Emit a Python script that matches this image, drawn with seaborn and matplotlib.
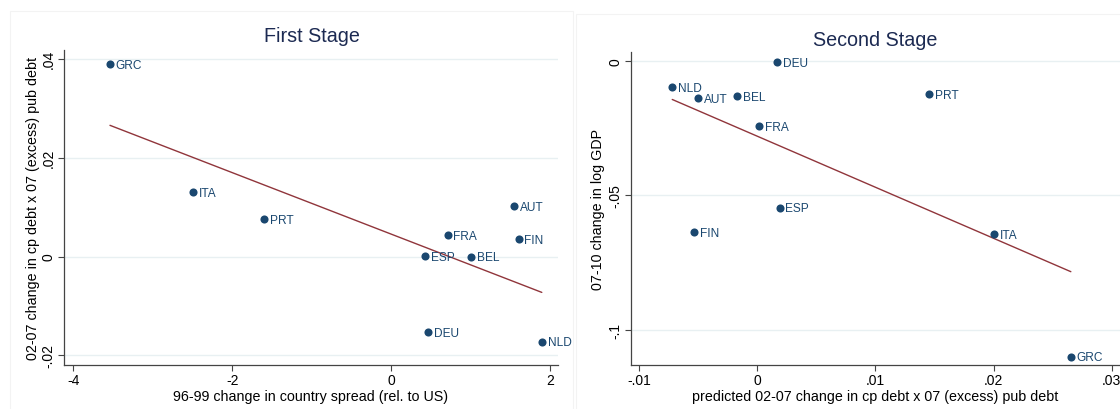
import numpy as np
import pandas as pd
import matplotlib
matplotlib.use("Agg")
import matplotlib.pyplot as plt
import seaborn as sns
from matplotlib.patches import Rectangle
from matplotlib.ticker import FuncFormatter

# Dados
countries = ["AUT", "BEL", "DEU", "ESP", "FIN", "FRA", "GRC", "ITA", "NLD", "PRT"]

# Primeiro estagio
spread_change = [1.553, 1.013, 0.464, 0.428, 1.607, 0.712, -3.539, -2.495, 1.899, -1.601]
debt_change = [0.0102, 0.0, -0.0153, 0.0001, 0.0035, 0.0043, 0.0389, 0.0130, -0.0172, 0.0076]

# Segundo estagio
pred_debt = [-0.00501, -0.0017, 0.0017, 0.0019, -0.00535, 0.00015, 0.02654, 0.02006, -0.00719, 0.01453]
gdp_change = [-0.0138, -0.0130, -0.0003, -0.0545, -0.0636, -0.0241, -0.1100, -0.0645, -0.0097, -0.0123]

df1 = pd.DataFrame({"x": spread_change, "y": debt_change, "lab": countries})
df2 = pd.DataFrame({"x": pred_debt, "y": gdp_change, "lab": countries})

navy = "#1a476f"
maroon = "#90353b"
grid_c = "#e8f0f2"
title_c = "#1c2a52"

sns.set_style("white")
plt.rcParams["font.family"] = ["Liberation Sans", "DejaVu Sans"]


def stata_fmt(v, pos):
    # formato do Stata: .02, -.05, 0
    s = "%g" % round(v, 6)
    if s.startswith("0."):
        s = s[1:]
    elif s.startswith("-0."):
        s = "-" + s[2:]
    return s


W, H = 1120, 410
fig = plt.figure(figsize=(11.2, 4.1), dpi=100)

# bordas das regioes do grafico (estilo Stata)
fig.patches.append(Rectangle((10 / W, -0.1), (573 - 10) / W, 1.1 - 12 / H,
                             transform=fig.transFigure, fill=False,
                             edgecolor="#f3f3f3", lw=0.8))
fig.patches.append(Rectangle((576 / W, -0.1), 0.5, 1.1 - 15 / H,
                             transform=fig.transFigure, fill=False,
                             edgecolor="#f3f3f3", lw=0.8))

ax1 = fig.add_axes([64 / W, 44 / H, (558 - 64) / W, (366 - 50.7) / H])
ax2 = fig.add_axes([631 / W, 44 / H, (1120 - 631) / W, (366 - 53.3) / H])

panels = [
    (ax1, df1, (-4.118, 2.103), (-0.02192, 0.04178), [-4, -2, 0, 2], [-0.02, 0, 0.02, 0.04],
     "96-99 change in country spread (rel. to US)",
     "02-07 change in cp debt x 07 (excess) pub debt", "First Stage", 312, 37),
    (ax2, df2, (-0.01068, 0.0307), (-0.11315, 0.00335), [-0.01, 0, 0.01, 0.02, 0.03], [-0.1, -0.05, 0],
     "predicted 02-07 change in cp debt x 07 (excess) pub debt",
     "07-10 change in log GDP", "Second Stage", 875, 40),
]

for ax, df, xl, yl, xt, yt, xlab, ylab, title, tx, ty in panels:
    for v in yt:
        ax.axhline(v, color=grid_c, lw=1, zorder=0)
    sns.regplot(data=df, x="x", y="y", ax=ax, scatter=False, ci=None,
                line_kws={"color": maroon, "lw": 1.0, "zorder": 2})
    sns.scatterplot(data=df, x="x", y="y", ax=ax, color=navy, s=34,
                    edgecolor=navy, linewidth=0, zorder=3)
    for _, r in df.iterrows():
        ax.annotate(r["lab"], (r["x"], r["y"]), xytext=(4.2, -0.6),
                    textcoords="offset points", va="center", ha="left",
                    fontsize=8.6, color=navy, annotation_clip=False)
    ax.set_xlim(*xl)
    ax.set_ylim(*yl)
    ax.set_xticks(xt)
    ax.set_yticks(yt)
    ax.xaxis.set_major_formatter(FuncFormatter(stata_fmt))
    ax.yaxis.set_major_formatter(FuncFormatter(stata_fmt))
    ax.tick_params(axis="both", direction="out", length=4, width=0.8,
                   color="#444444", labelsize=10, labelcolor="black", pad=2,
                   bottom=True, left=True)
    plt.setp(ax.get_yticklabels(), rotation=90, va="center")
    for side in ["top", "right"]:
        ax.spines[side].set_visible(False)
    for side in ["left", "bottom"]:
        ax.spines[side].set_color("#444444")
        ax.spines[side].set_linewidth(0.9)
    ax.set_xlabel(xlab, fontsize=10.25, color="black")
    ax.set_ylabel(ylab, fontsize=10.25, color="black")
    ax.patch.set_alpha(0)
    fig.text(tx / W, 1 - ty / H, title, ha="center", va="center",
             fontsize=14.2, color=title_c)

ax1.xaxis.set_label_coords(0.5, -(390 - 366) / 315.3)
ax2.xaxis.set_label_coords(0.5, -(390 - 366) / 312.7)
ax1.yaxis.set_label_coords(-(64 - 40) / 494, 0.5)
ax2.yaxis.set_label_coords(-(631 - 605) / 489, 0.5)

fig.savefig("out.png", dpi=100)
